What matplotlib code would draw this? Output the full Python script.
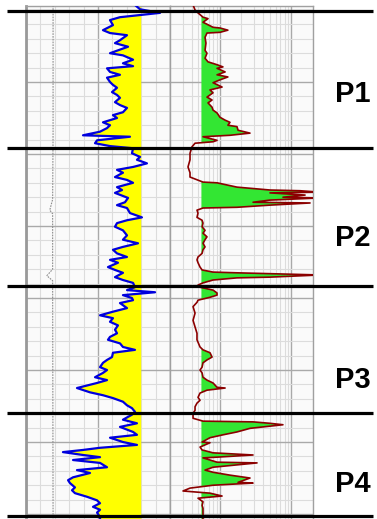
import numpy as np
import matplotlib
matplotlib.use("Agg")
import matplotlib.pyplot as plt
from matplotlib.ticker import MultipleLocator, FixedLocator, LogLocator

# depth (m) / gamma ray (API)
gr_depth = np.array([
    989.3, 989.9, 990.4, 991.0, 991.4, 992.1, 992.8, 993.2, 993.5, 994.2,
    994.6, 995.1, 995.6, 996.0, 996.3, 996.9, 997.4, 997.8, 998.1, 998.6,
    999.0, 999.4, 1000.0, 1000.4, 1000.8, 1001.4, 1001.8, 1002.2, 1002.8, 1003.2,
    1003.6, 1004.2, 1004.6, 1005.0, 1005.6, 1006.0, 1006.4, 1006.9, 1007.4, 1007.6,
    1008.1, 1008.5, 1008.9, 1009.2, 1009.9, 1010.4, 1010.8, 1011.3, 1011.8, 1012.2,
    1012.6, 1013.2, 1013.6, 1014.0, 1014.6, 1015.0, 1015.4, 1016.1, 1016.7, 1017.1,
    1017.5, 1018.2, 1018.8, 1019.2, 1019.6, 1020.1, 1020.6, 1021.3, 1021.9, 1022.4,
    1022.9, 1023.3, 1023.8, 1024.3, 1024.7, 1025.1, 1025.7, 1026.1, 1026.5, 1027.1,
    1027.5, 1027.9, 1028.5, 1028.9, 1029.2, 1029.6, 1030.0, 1030.3, 1030.7, 1031.4,
    1031.9, 1032.4, 1032.8, 1033.3, 1033.8, 1034.4, 1034.9, 1035.4, 1035.8, 1036.3,
    1036.8, 1037.2, 1037.6, 1038.2, 1038.6, 1039.0, 1039.6, 1040.0, 1040.4, 1041.0,
    1041.4, 1041.8, 1042.5, 1043.1, 1043.5, 1043.9, 1044.4, 1044.9, 1045.3, 1045.8,
    1046.2, 1046.9, 1047.4, 1047.9, 1048.6, 1049.0, 1049.4, 1050.0, 1050.4, 1050.8,
    1051.1, 1051.4, 1051.8, 1052.1, 1052.5, 1052.9, 1053.5, 1053.9, 1054.3, 1054.9,
    1055.3, 1055.7, 1056.3, 1056.7, 1057.1, 1057.6, 1058.1, 1058.5, 1059.0, 1059.4,
    1059.8, 1060.4, 1060.7])
gr = np.array([
    113.5, 118.8, 139.6, 97.9, 87.5, 90.6, 80.2, 87.5, 105.2, 97.9,
    92.7, 106.3, 95.8, 87.5, 101.0, 111.5, 101.0, 111.5, 84.4, 87.5,
    97.9, 84.4, 87.5, 90.6, 94.8, 89.6, 94.8, 97.9, 92.7, 97.9,
    105.2, 101.0, 90.6, 94.8, 80.2, 87.5, 84.4, 77.1, 59.4, 108.3,
    74.0, 71.9, 87.5, 111.5, 110.4, 118.8, 115.6, 126.0, 111.5, 94.8,
    101.0, 92.7, 105.2, 111.5, 94.8, 100.0, 92.7, 106.3, 103.1, 94.8,
    105.2, 108.3, 120.8, 105.2, 94.8, 92.7, 101.0, 105.2, 101.0, 116.7,
    101.0, 90.6, 94.8, 105.2, 87.5, 95.8, 85.4, 92.7, 101.0, 92.7,
    101.0, 111.5, 113.5, 105.2, 134.4, 101.0, 110.4, 111.5, 97.9, 105.2,
    90.6, 77.1, 90.6, 87.5, 95.8, 92.7, 94.8, 87.5, 85.4, 97.9,
    101.0, 113.5, 90.6, 89.6, 84.4, 80.2, 77.1, 84.4, 80.2, 71.9,
    84.4, 74.0, 53.1, 66.7, 80.2, 90.6, 101.0, 105.2, 110.4, 113.5,
    110.4, 101.0, 115.6, 97.9, 111.5, 115.6, 87.5, 101.0, 115.6, 77.1,
    59.4, 38.5, 59.4, 77.1, 49.0, 77.1, 84.4, 53.1, 66.7, 49.0,
    43.8, 45.8, 51.0, 47.9, 51.0, 63.5, 74.0, 77.1, 69.8, 77.1,
    74.0, 77.1, 77.1])

# depth (m) / resistivity (ohm.m)
res_depth = np.array([
    989.3, 990.0, 990.4, 991.0, 991.2, 991.7, 992.4, 992.5, 992.8, 993.1,
    993.2, 993.8, 994.6, 995.6, 996.0, 996.7, 997.2, 997.6, 997.9, 998.1,
    998.6, 999.0, 999.3, 999.7, 1000.1, 1000.7, 1001.1, 1001.5, 1002.1, 1002.5,
    1002.9, 1003.5, 1003.9, 1004.3, 1004.9, 1005.3, 1005.6, 1006.0, 1006.2, 1006.7,
    1007.1, 1007.4, 1007.6, 1008.1, 1008.3, 1008.5, 1009.0, 1009.9, 1010.8, 1011.8,
    1012.6, 1013.2, 1013.9, 1014.0, 1014.6, 1015.0, 1015.1, 1015.3, 1015.4, 1015.7,
    1016.0, 1016.1, 1016.4, 1016.7, 1016.8, 1017.1, 1017.4, 1017.5, 1017.8, 1018.2,
    1018.8, 1019.2, 1019.6, 1020.1, 1020.6, 1021.0, 1021.5, 1021.9, 1022.4, 1022.9,
    1023.3, 1023.8, 1024.3, 1024.7, 1025.1, 1025.7, 1026.1, 1026.4, 1026.5, 1026.8,
    1027.1, 1027.2, 1027.5, 1027.9, 1028.2, 1028.5, 1028.9, 1029.3, 1029.6, 1029.9,
    1030.3, 1030.6, 1031.2, 1032.1, 1033.1, 1034.0, 1034.9, 1035.8, 1036.8, 1037.2,
    1037.6, 1038.2, 1038.6, 1039.0, 1039.6, 1040.0, 1040.4, 1041.0, 1041.4, 1041.8,
    1042.4, 1042.5, 1042.8, 1043.2, 1043.8, 1044.2, 1044.6, 1045.1, 1045.6, 1046.0,
    1046.7, 1047.1, 1047.2, 1047.4, 1047.6, 1047.9, 1048.1, 1048.6, 1049.0, 1049.4,
    1050.0, 1050.1, 1050.7, 1051.1, 1051.5, 1051.8, 1052.1, 1052.2, 1052.8, 1052.9,
    1053.5, 1053.9, 1054.2, 1054.6, 1055.0, 1055.6, 1055.7, 1056.0, 1056.4, 1056.8,
    1057.1, 1057.5, 1057.8, 1058.3, 1058.8, 1059.2, 1059.9, 1060.4, 1060.7])
res = np.array([
    0.42, 0.448, 0.493, 0.579, 0.68, 0.579, 0.80, 1.0, 1.29, 1.0,
    0.658, 0.618, 0.637, 0.618, 0.658, 0.618, 0.68, 0.91, 1.10, 0.91,
    1.18, 0.91, 1.29, 1.0, 0.80, 1.07, 0.725, 0.80, 0.658, 0.775,
    0.68, 0.775, 0.80, 0.91, 1.0, 1.18, 1.38, 1.29, 1.73, 1.79,
    2.63, 1.38, 0.579, 0.91, 0.80, 0.448, 0.406, 0.381, 0.381, 0.357,
    0.381, 0.381, 0.579, 0.91, 1.73, 5.0, 13.2, 25.0, 5.0, 15.5,
    7.6, 25.0, 5.0, 2.9, 18.2, 5.0, 1.73, 0.579, 0.477, 0.493,
    0.477, 0.562, 0.579, 0.562, 0.618, 0.579, 0.658, 0.618, 0.579, 0.618,
    0.579, 0.562, 0.493, 0.477, 0.493, 0.526, 0.562, 0.80, 1.73, 25.0,
    5.0, 1.73, 0.80, 0.579, 0.493, 0.526, 0.80, 0.91, 0.91, 0.725,
    0.493, 0.477, 0.42, 0.448, 0.42, 0.448, 0.477, 0.477, 0.526, 0.579,
    0.725, 0.775, 0.658, 0.579, 0.562, 0.526, 0.562, 0.579, 0.658, 0.80,
    0.91, 1.18, 0.658, 0.526, 0.493, 0.526, 0.477, 0.448, 0.448, 0.42,
    0.42, 0.579, 2.9, 5.0, 7.6, 4.0, 2.63, 1.73, 1.10, 0.725,
    0.562, 0.725, 0.526, 0.562, 0.80, 2.9, 0.91, 0.579, 0.91, 3.3,
    0.80, 0.618, 0.80, 1.38, 2.63, 1.79, 2.9, 0.80, 0.381, 0.304,
    0.725, 1.07, 0.493, 0.579, 0.562, 0.579, 0.579, 0.579, 0.579])

# thin grey curve in track 1 (caliper, in)
cal_depth = [988.6, 1007.0, 1016.3, 1017.8, 1018.3, 1026.0, 1026.9, 1027.6, 1060.7]
cal = [7.88, 7.88, 7.85, 7.65, 7.85, 7.85, 7.45, 7.85, 7.88]

tops = [990.2, 1009.1, 1028.3, 1046.0, 1060.3]
zone_names = ["P1", "P2", "P3", "P4"]
zone_label_depth = [1002.8, 1022.8, 1042.5, 1056.9]

gr_cutoff = 120
res_cutoff = 0.55
top_depth, base_depth = 989.375, 1060.69

W, H = 377, 519
fig = plt.figure(figsize=(W / 100, H / 100), dpi=100)

h = (H - 5.5) / H
ax1 = fig.add_axes([26 / W, 0, 144 / W, h])
ax2 = fig.add_axes([170 / W, 0, 143 / W, h])

for ax in (ax1, ax2):
    ax.set_facecolor("#fafafa")
    ax.set_ylim(base_depth, top_depth)
    ax.yaxis.set_major_locator(MultipleLocator(10))
    ax.yaxis.set_minor_locator(MultipleLocator(2))
    ax.grid(which="minor", color="#dcdcdc", lw=0.8)
    ax.grid(which="major", color="#a9a9a9", lw=1.0)
    ax.set_axisbelow(True)
    ax.tick_params(which="both", length=0, labelleft=False, labelbottom=False)
    for s in ax.spines.values():
        s.set_color("#a0a0a0")
        s.set_linewidth(1.0)
    ax.spines["bottom"].set_visible(False)

# track 1 : gamma ray
ax1.set_xlim(0, 150)
ax1.xaxis.set_major_locator(FixedLocator([0, 75, 150]))
ax1.xaxis.set_minor_locator(MultipleLocator(15))
ax1.spines["left"].set_linewidth(2.0)
ax1.spines["left"].set_color("#999999")
ax1.fill_betweenx(gr_depth, gr, gr_cutoff, where=gr < gr_cutoff,
                  interpolate=True, color="#ffff00", lw=0, zorder=2)
ax1.plot(gr, gr_depth, color="#0000dd", lw=1.6, zorder=3)

axc = ax1.twiny()
axc.set_xlim(6, 16)
axc.set_ylim(base_depth, top_depth)
axc.axis("off")
axc.plot(cal, cal_depth, color="#8c8c8c", lw=0.8, ls=(0, (1.5, 1)))

# track 2 : resistivity
ax2.set_xscale("log")
ax2.set_xlim(0.2, 20)
ax2.xaxis.set_major_locator(FixedLocator([1, 10]))
ax2.xaxis.set_minor_locator(LogLocator(base=10, subs=np.arange(2, 10)))
ax2.tick_params(which="both", length=0, labelleft=False, labelbottom=False)
ax2.fill_betweenx(res_depth, res, res_cutoff, where=res > res_cutoff,
                  interpolate=True, color="#33e633", lw=0, zorder=2)
ax2.plot(res, res_depth, color="#8b0000", lw=1.2, zorder=3)

# formation tops and zone names
ov = fig.add_axes([0, 0, 1, 1], zorder=10)
ov.set_xlim(0, 1)
ov.set_ylim(base_depth, top_depth - 5.5 / 7.2)
ov.axis("off")
ov.hlines(tops, 7 / W, 373 / W, color="black", lw=2.3)
for name, d in zip(zone_names, zone_label_depth):
    ov.text(352.5 / W, d, name, ha="center", va="baseline", fontsize=21,
            fontweight="bold", family="Liberation Sans")

fig.savefig("out.png", dpi=100)
